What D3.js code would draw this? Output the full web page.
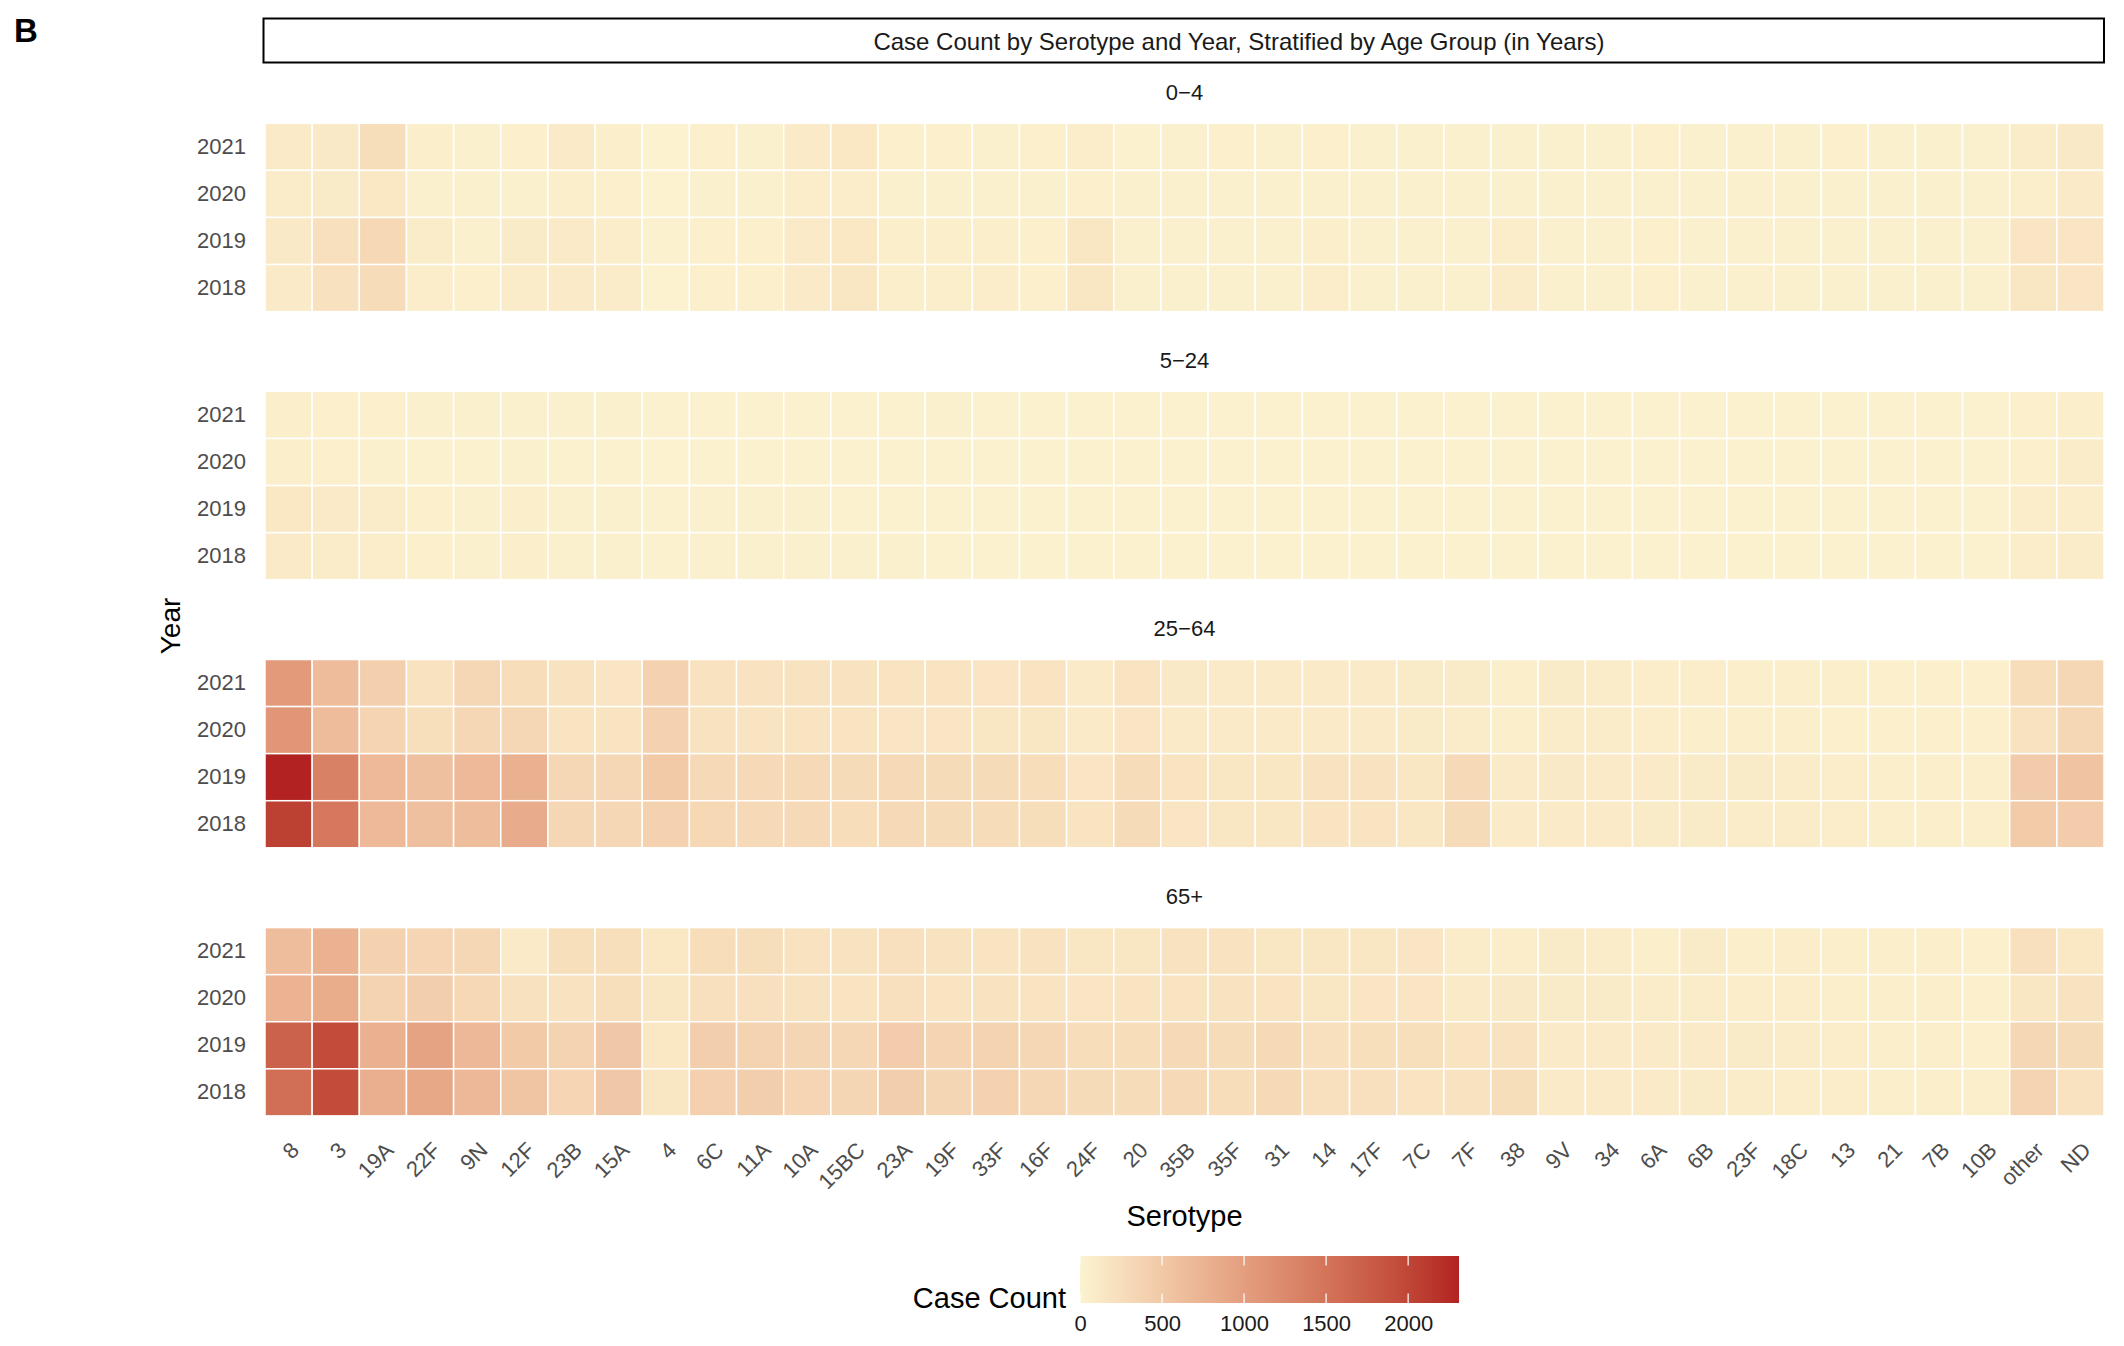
<!DOCTYPE html>
<html>
<head>
<meta charset="UTF-8">
<script src="https://d3js.org/d3.v7.min.js"></script>
<style>
  body { margin: 0; background: #fff; }
  svg text { font-family: "Liberation Sans", Arial, sans-serif; }
</style>
</head>
<body>
<div id="chart"></div>
<script>
// serotypes, in the order of the x axis
var serotypes = ["8","3","19A","22F","9N","12F","23B","15A","4","6C","11A","10A","15BC","23A","19F","33F","16F","24F",
  "20","35B","35F","31","14","17F","7C","7F","38","9V","34","6A","6B","23F","18C","13","21","7B","10B","other","ND"];
var years = ["2021","2020","2019","2018"];
var ageGroups = ["0\u22124","5\u221224","25\u221264","65+"];

// case counts, one row per year (2021, 2020, 2019, 2018), one value per serotype
var counts0_4 = [
  [100,120,250,60,40,50,100,60,15,50,40,100,130,50,50,40,50,70, 20,40,50,30,50,40,30,30,30,40,40,50,40,30,30,50,30,30,30,80,120],
  [80,90,130,40,35,40,60,50,10,40,30,70,70,40,40,40,40,50, 30,40,40,30,40,40,30,30,30,40,40,40,40,30,30,30,30,30,30,60,110],
  [120,220,320,80,40,90,110,70,20,50,50,110,130,60,60,60,50,150, 30,40,40,40,60,40,40,30,70,30,40,50,40,40,40,30,30,30,30,160,160],
  [110,210,270,70,50,80,100,80,10,50,50,100,140,60,60,70,50,150, 30,40,40,40,70,40,40,40,80,30,40,50,40,40,30,40,30,30,40,150,160]
];
var counts5_24 = [
  [60,50,50,30,30,30,30,30,20,25,25,25,25,25,30,25,25,25, 25,25,25,25,25,25,25,25,25,25,25,25,25,25,25,25,25,25,25,50,60],
  [60,50,40,20,20,30,25,25,15,20,20,20,20,20,20,20,20,20, 20,20,20,20,20,20,20,20,20,20,20,20,20,20,20,20,20,20,20,50,80],
  [130,100,80,50,30,60,30,30,20,30,30,30,25,25,25,25,25,25, 25,25,25,25,25,25,25,25,25,25,25,25,25,25,25,25,25,25,25,70,70],
  [100,80,70,50,30,60,30,30,20,30,30,30,30,30,25,25,25,25, 25,25,25,25,25,25,25,25,25,25,25,25,25,25,25,25,25,25,25,70,80]
];
var counts25_64 = [
  [1050,650,420,200,330,260,190,160,400,200,200,190,190,180,170,160,170,100, 170,120,110,110,100,100,90,90,60,90,80,70,70,60,60,60,50,50,50,260,330],
  [1100,650,360,240,330,330,180,170,400,190,180,180,170,160,160,150,150,100, 160,110,100,100,100,100,90,80,60,80,80,70,60,60,60,50,50,50,50,200,330],
  [2310,1350,680,600,680,780,330,330,480,300,300,310,280,310,280,280,260,160, 270,170,150,150,190,190,150,300,100,120,100,100,90,90,80,70,60,60,60,460,560],
  [2050,1450,680,600,640,840,330,330,400,320,300,300,260,310,280,270,250,180, 280,160,150,150,170,170,150,280,100,110,100,90,90,80,80,70,60,60,60,470,450]
];
var counts65 = [
  [640,770,400,350,330,110,240,240,130,260,250,200,190,230,190,180,200,140, 150,200,200,150,140,150,160,80,70,90,80,60,90,60,70,60,60,60,50,230,130],
  [760,830,380,440,320,210,200,240,140,220,230,190,180,230,180,190,170,160, 180,180,190,170,150,160,160,110,120,90,90,80,80,70,70,60,60,60,50,150,190],
  [1700,1950,780,950,700,480,380,500,130,440,380,340,330,450,360,380,330,260, 260,310,270,310,230,240,240,170,190,110,100,100,100,90,80,70,60,60,50,330,280],
  [1550,1950,800,880,700,540,350,500,150,410,430,350,340,440,340,400,330,280, 270,300,260,310,220,220,170,190,250,110,100,100,90,80,70,70,60,60,60,360,200]
];
var legendTicks = [0, 500, 1000, 1500, 2000];

var allCounts = [counts0_4, counts5_24, counts25_64, counts65];

var width = 2124, height = 1346;
var left = 265, right = 2104;
var panelTop = 123.3, panelStep = 268.1, panelH = 188.3;

var svg = d3.select("#chart").append("svg")
  .attr("width", width)
  .attr("height", height);

var maxVal = d3.max(allCounts, function (g) { return d3.max(g, function (r) { return d3.max(r); }); });

var color = d3.scaleLinear()
  .domain([0, maxVal])
  .range(["#FCF3D0", "#B22222"])
  .interpolate(d3.interpolateLab);

var x = d3.scaleBand().domain(serotypes).range([left, right]);

// panel letter
svg.append("text")
  .attr("x", 14).attr("y", 42)
  .style("font-size", "33px").style("font-weight", "bold")
  .text("B");

// title box (text sits a little right of centre, as in the original)
svg.append("rect")
  .attr("x", 263.5).attr("y", 18.5)
  .attr("width", right - 263.5).attr("height", 44)
  .attr("fill", "white").attr("stroke", "black").attr("stroke-width", 2);
svg.append("text")
  .attr("x", 1239).attr("y", 41)
  .attr("text-anchor", "middle").attr("dominant-baseline", "central")
  .style("font-size", "24px").style("fill", "#1a1a1a")
  .text("Case Count by Serotype and Year, Stratified by Age Group (in Years)");

ageGroups.forEach(function (grp, gi) {
  var top = panelTop + gi * panelStep;
  var y = d3.scaleBand().domain(years).range([top, top + panelH]);

  // strip label
  svg.append("text")
    .attr("x", (left + right) / 2).attr("y", top - 31)
    .attr("text-anchor", "middle").attr("dominant-baseline", "central")
    .style("font-size", "22px").style("fill", "#1a1a1a")
    .text(grp);

  var cells = [];
  allCounts[gi].forEach(function (row, yi) {
    row.forEach(function (v, si) {
      cells.push({ year: years[yi], sero: serotypes[si], value: v });
    });
  });

  svg.append("g").selectAll("rect")
    .data(cells)
    .enter()
    .append("rect")
    .attr("x", function (d) { return x(d.sero); })
    .attr("y", function (d) { return y(d.year); })
    .attr("width", x.bandwidth())
    .attr("height", y.bandwidth())
    .attr("fill", function (d) { return color(d.value); })
    .attr("stroke", "white")
    .attr("stroke-width", 1.5);

  var yAxis = svg.append("g")
    .attr("transform", "translate(" + left + ",0)")
    .call(d3.axisLeft(y).tickSize(0).tickPadding(19));
  yAxis.select(".domain").remove();
  yAxis.selectAll("text")
    .style("font-size", "22px").style("fill", "#4d4d4d")
    .attr("font-family", null);
});

// x axis with rotated labels
var xAxis = svg.append("g")
  .attr("transform", "translate(0,1141)")
  .call(d3.axisBottom(x).tickSize(0));
xAxis.select(".domain").remove();
xAxis.selectAll("text")
  .attr("font-family", null)
  .attr("x", 1).attr("y", 0)
  .attr("dy", "0.72em")
  .attr("text-anchor", "end")
  .attr("transform", "rotate(-45)")
  .style("font-size", "22px").style("fill", "#4d4d4d");

// axis titles
svg.append("text")
  .attr("transform", "translate(170,626) rotate(-90)")
  .attr("text-anchor", "middle").attr("dominant-baseline", "central")
  .style("font-size", "28px")
  .text("Year");
svg.append("text")
  .attr("x", (left + right) / 2).attr("y", 1216)
  .attr("text-anchor", "middle").attr("dominant-baseline", "central")
  .style("font-size", "29px")
  .text("Serotype");

// legend colour bar
var lx0 = 1080, lx1 = 1459, ly = 1256, lh = 47;
var lscale = d3.scaleLinear().domain([0, maxVal]).range([lx0, lx1]);

var grad = svg.append("defs").append("linearGradient")
  .attr("id", "legendGrad")
  .attr("x1", "0%").attr("x2", "100%").attr("y1", "0%").attr("y2", "0%");
d3.range(0, 1.0001, 0.05).forEach(function (t) {
  grad.append("stop")
    .attr("offset", (t * 100) + "%")
    .attr("stop-color", color(t * maxVal));
});

svg.append("rect")
  .attr("x", lx0).attr("y", ly)
  .attr("width", lx1 - lx0).attr("height", lh)
  .attr("fill", "url(#legendGrad)");

svg.append("g").selectAll("line")
  .data(legendTicks)
  .enter()
  .each(function (d) {
    var g = d3.select(this);
    g.append("line")
      .attr("x1", lscale(d)).attr("x2", lscale(d))
      .attr("y1", ly).attr("y2", ly + lh / 5)
      .attr("stroke", "white").attr("stroke-width", 1.2);
    g.append("line")
      .attr("x1", lscale(d)).attr("x2", lscale(d))
      .attr("y1", ly + lh - lh / 5).attr("y2", ly + lh)
      .attr("stroke", "white").attr("stroke-width", 1.2);
  });

var lAxis = svg.append("g")
  .attr("transform", "translate(0," + (ly + lh) + ")")
  .call(d3.axisBottom(lscale).tickValues(legendTicks).tickFormat(d3.format("d")).tickSize(0).tickPadding(12));
lAxis.select(".domain").remove();
lAxis.selectAll("text")
  .attr("font-family", null)
  .style("font-size", "22px").style("fill", "#1a1a1a");

svg.append("text")
  .attr("x", 1066).attr("y", 1298)
  .attr("text-anchor", "end").attr("dominant-baseline", "central")
  .style("font-size", "29px")
  .text("Case Count");
</script>
</body>
</html>
